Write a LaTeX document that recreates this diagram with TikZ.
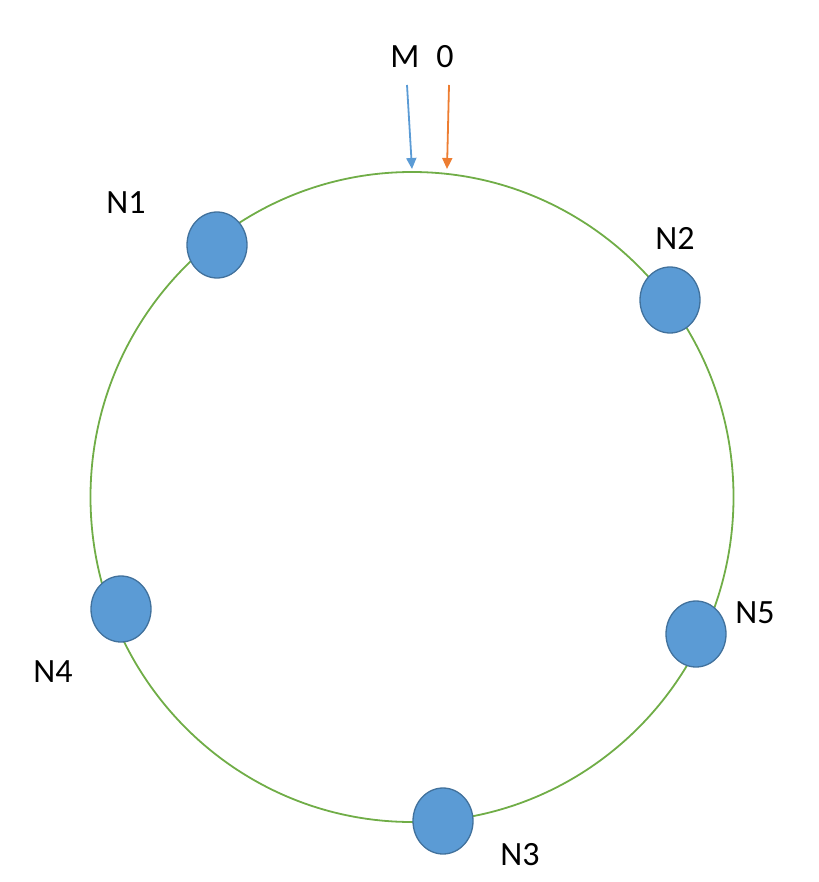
\documentclass[tikz,border=0pt]{standalone}
\usepackage{fontspec}
\setmainfont{Carlito}
\usetikzlibrary{arrows.meta,shapes.geometric}
\definecolor{ringgreen}{HTML}{70AD47}
\definecolor{nodeblue}{HTML}{5B9BD5}
\definecolor{nodeedge}{HTML}{41719C}
\definecolor{arrorange}{HTML}{ED7D31}
\tikzset{
  ringnode/.style={ellipse, draw=nodeedge, fill=nodeblue, line width=1.3pt, minimum width=60pt, minimum height=66pt, inner sep=0pt},
  lbl/.style={font=\fontsize{34}{38}\selectfont, inner sep=0pt, anchor=center},
  ptr/.style={line width=1.8pt, -{Triangle[length=11pt,width=10pt]}}
}
\begin{document}
\begin{tikzpicture}[x=1pt,y=-1pt]
\useasboundingbox (0,0) rectangle (818,882);
\node[ellipse, draw=ringgreen, line width=1.8pt, minimum width=643pt, minimum height=650pt, inner sep=0pt] (ring) at (412,497) {};
\node[ringnode] (n1) at (217,245) {};
\node[ringnode] (n2) at (670,300) {};
\node[ringnode] (n3) at (443,821) {};
\node[ringnode] (n4) at (121,609) {};
\node[ringnode] (n5) at (696,634) {};
\node[lbl] (l1) at (126,203) {N1};
\node[lbl] (l2) at (675,238) {N2};
\node[lbl] (l3) at (520,855) {N3};
\node[lbl] (l4) at (53,672) {N4};
\node[lbl] (l5) at (755,613) {N5};
\node[lbl] (lm) at (405,57) {M};
\node[lbl] (l0) at (445,57) {0};
\coordinate (ms) at (407,85);
\coordinate (me) at (412,169);
\coordinate (zs) at (449,85);
\coordinate (ze) at (447,169);
\draw[ptr, draw=nodeblue, fill=nodeblue] (ms) -- (me);
\draw[ptr, draw=arrorange, fill=arrorange] (zs) -- (ze);
\end{tikzpicture}
\end{document}
